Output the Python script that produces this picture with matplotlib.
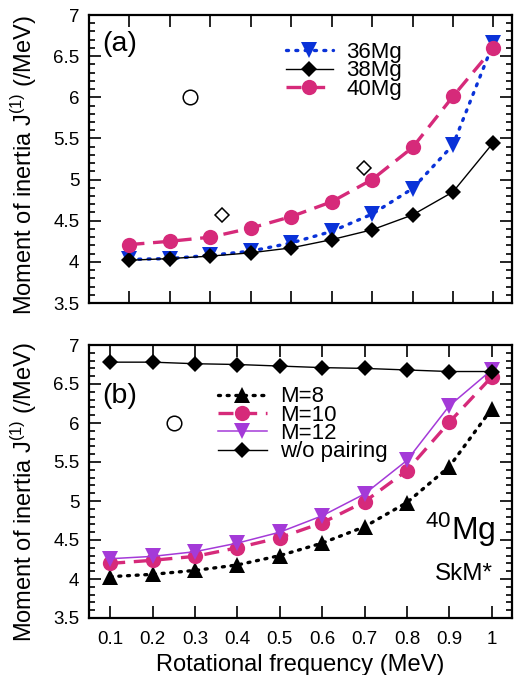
import matplotlib
matplotlib.use("Agg")
import matplotlib.pyplot as plt
from matplotlib.ticker import MultipleLocator, FixedLocator

plt.rcParams['font.family'] = ['Liberation Sans', 'DejaVu Sans']
plt.rcParams['mathtext.fontset'] = 'custom'
plt.rcParams['mathtext.rm'] = 'Liberation Sans'
plt.rcParams['mathtext.it'] = 'Liberation Sans:italic'
plt.rcParams['mathtext.bf'] = 'Liberation Sans:bold'

# ---------------- data ----------------
omega = [0.1, 0.2, 0.3, 0.4, 0.5, 0.6, 0.7, 0.8, 0.9, 1.0]

# panel (a)
mg36 = [4.03, 4.04, 4.08, 4.13, 4.23, 4.37, 4.58, 4.89, 5.42, 6.66]
mg38 = [4.02, 4.04, 4.07, 4.11, 4.17, 4.27, 4.39, 4.57, 4.85, 5.45]
mg40 = [4.21, 4.25, 4.30, 4.41, 4.55, 4.73, 5.00, 5.39, 6.01, 6.60]
exp_circle_x = [0.25]
exp_circle_y = [6.0]
exp_diamond_x = [0.33, 0.68]
exp_diamond_y = [4.57, 5.14]

# panel (b)
m8 = [4.03, 4.06, 4.11, 4.18, 4.30, 4.46, 4.67, 4.98, 5.44, 6.18]
m10 = [4.20, 4.24, 4.29, 4.40, 4.53, 4.72, 4.99, 5.39, 6.01, 6.59]
m12 = [4.26, 4.29, 4.35, 4.46, 4.60, 4.81, 5.09, 5.52, 6.22, 6.68]
nopair = [6.78, 6.78, 6.76, 6.75, 6.73, 6.71, 6.70, 6.68, 6.66, 6.66]

xticks = [0.1, 0.2, 0.3, 0.4, 0.5, 0.6, 0.7, 0.8, 0.9, 1.0]
xticklabels = ['0.1', '0.2', '0.3', '0.4', '0.5', '0.6', '0.7', '0.8', '0.9', '1']
yticks = [3.5, 4, 4.5, 5, 5.5, 6, 6.5, 7]
yticklabels = ['3.5', '4', '4.5', '5', '5.5', '6', '6.5', '7']

BLUE = '#0a32d8'
PINK = '#d62a7a'
PURPLE = '#a43ad8'
BLACK = '#000000'

W, H = 515, 675
fig = plt.figure(figsize=(W / 100, H / 100), dpi=100)

def px_axes(left, top, right, bottom):
    return fig.add_axes([left / W, 1 - bottom / H, (right - left) / W, (bottom - top) / H])

axA = px_axes(89, 15, 512, 303)
axB = px_axes(89, 345, 512, 618)

def style(ax, xlim, show_xlabels):
    ax.set_xlim(*xlim)
    ax.set_ylim(3.5, 7)
    ax.xaxis.set_major_locator(FixedLocator(xticks))
    ax.yaxis.set_major_locator(FixedLocator(yticks))
    ax.yaxis.set_minor_locator(MultipleLocator(0.1))
    ax.set_yticklabels(yticklabels)
    if show_xlabels:
        ax.set_xticklabels(xticklabels)
    else:
        ax.set_xticklabels([])
    ax.tick_params(which='both', direction='in', top=True, right=True, width=1.2)
    ax.tick_params(which='major', length=8.8, labelsize=13.5, pad=7)
    ax.tick_params(axis='x', which='major', pad=9)
    ax.tick_params(which='minor', length=4.4)
    for s in ax.spines.values():
        s.set_linewidth(1.6)

style(axA, (0.0, 1.046), False)
style(axB, (0.05, 1.048), True)

# ---------------- panel (a) ----------------
axA.plot(omega, mg36, color=BLUE, ls=(0, (0.6, 2.2)), lw=2.4, dash_capstyle='round',
         marker='v', ms=11, mfc=BLUE, mec=BLUE, mew=0, label='36Mg')
axA.plot(omega, mg38, color=BLACK, ls='-', lw=1.0,
         marker='D', ms=8.3, mfc=BLACK, mec=BLACK, mew=0, label='38Mg')
axA.plot(omega, mg40, color=PINK, ls=(0, (4.5, 2.6)), lw=2.4,
         marker='o', ms=11, mfc=PINK, mec=PINK, mew=0, label='40Mg')
axA.plot(exp_circle_x, exp_circle_y, ls='none', marker='o', ms=10.5, mfc='white',
         mec=BLACK, mew=1.1)
axA.plot(exp_diamond_x, exp_diamond_y, ls='none', marker='D', ms=7.4, mfc='white',
         mec=BLACK, mew=1.1)

axA.legend(loc='upper left', bbox_to_anchor=(0.466, 0.906), frameon=False,
           fontsize=16, handlelength=2.1, handletextpad=0.62,
           labelspacing=-0.12, borderpad=0, borderaxespad=0)

axA.text(0.032, 0.899, '(a)', transform=axA.transAxes, fontsize=20.5,
         ha='left', va='center')

# ---------------- panel (b) ----------------
axB.plot(omega, m8, color=BLACK, ls=(0, (0.6, 2.0)), lw=2.4, dash_capstyle='round',
         marker='^', ms=11, mfc=BLACK, mec=BLACK, mew=0, label='M=8')
axB.plot(omega, m10, color=PINK, ls=(0, (4.5, 2.6)), lw=2.4,
         marker='o', ms=11, mfc=PINK, mec=PINK, mew=0, label='M=10')
axB.plot(omega, m12, color=PURPLE, ls='-', lw=1.1,
         marker='v', ms=11, mfc=PURPLE, mec=PURPLE, mew=0, label='M=12')
axB.plot(omega, nopair, color=BLACK, ls='-', lw=1.0,
         marker='D', ms=8.3, mfc=BLACK, mec=BLACK, mew=0, label='w/o pairing')
axB.plot(exp_circle_x, exp_circle_y, ls='none', marker='o', ms=10.5, mfc='white',
         mec=BLACK, mew=1.1)

axB.legend(loc='upper left', bbox_to_anchor=(0.305, 0.848), frameon=False,
           fontsize=16, handlelength=2.2, handletextpad=0.58,
           labelspacing=-0.12, borderpad=0, borderaxespad=0)

axB.text(0.032, 0.813, '(b)', transform=axB.transAxes, fontsize=20.5,
         ha='left', va='center')
axB.text(0.96, 0.286, r'$^{40}$Mg', transform=axB.transAxes, fontsize=23,
         ha='right', va='baseline')
axB.text(0.955, 0.139, 'SkM*', transform=axB.transAxes, fontsize=17.5,
         ha='right', va='baseline')

# ---------------- axis labels ----------------
ylab = r'Moment of inertia J$^{(1)}$ (/MeV)'
fig.text(24 / W, 1 - 165 / H, ylab, rotation=90, ha='center', va='center', fontsize=17)
fig.text(24 / W, 1 - 492 / H, ylab, rotation=90, ha='center', va='center', fontsize=17)
fig.text(300 / W, 4 / H, 'Rotational frequency (MeV)', ha='center', va='baseline',
         fontsize=17)

fig.savefig('out.png', dpi=100)
